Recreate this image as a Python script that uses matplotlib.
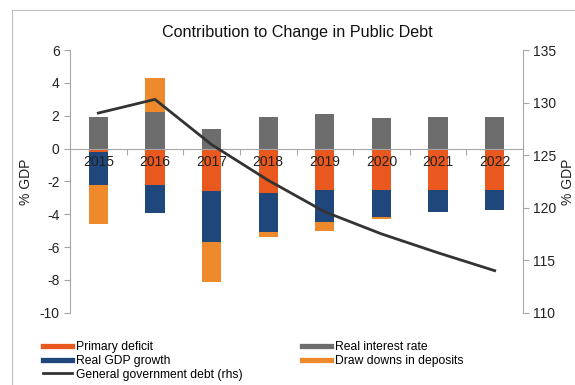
import matplotlib
matplotlib.use("Agg")
import matplotlib.pyplot as plt
import numpy as np
from matplotlib.lines import Line2D

plt.rcParams['font.family'] = ['Liberation Sans', 'DejaVu Sans']

years = ["2015", "2016", "2017", "2018", "2019", "2020", "2021", "2022"]
primary_deficit = [-0.2, -2.2, -2.6, -2.7, -2.5, -2.5, -2.5, -2.5]
real_gdp_growth = [-2.0, -1.75, -3.1, -2.4, -2.0, -1.7, -1.35, -1.25]
real_interest_rate = [1.9, 2.2, 1.2, 1.9, 2.1, 1.85, 1.9, 1.9]
draw_downs = [-2.4, 2.1, -2.4, -0.3, -0.5, -0.08, 0.0, 0.0]
gov_debt = [129.0, 130.3, 126.0, 122.6, 119.6, 117.5, 115.7, 114.0]

c_primary = "#E8581F"
c_gdp = "#1F477B"
c_int = "#6D6D6D"
c_draw = "#EF8A2C"
c_line = "#333333"
c_axis = "#A6A6A6"

fig = plt.figure(figsize=(5.75, 3.85), dpi=100)
ax = fig.add_axes([70/575, 1-312.7/385, (523-70)/575, (312.7-50)/385])

x = np.arange(len(years))
w = 0.34
pos = np.zeros(len(years))
neg = np.zeros(len(years))
series = [(primary_deficit, c_primary, "Primary deficit"),
          (real_gdp_growth, c_gdp, "Real GDP growth"),
          (real_interest_rate, c_int, "Real interest rate"),
          (draw_downs, c_draw, "Draw downs in deposits")]
for vals, col, lab in series:
    v = np.array(vals)
    bottom = np.where(v >= 0, pos, neg)
    ax.bar(x, v, w, bottom=bottom, color=col, zorder=2)
    pos = pos + np.where(v >= 0, v, 0)
    neg = neg + np.where(v < 0, v, 0)

ax.set_axisbelow(False)
ax.set_xlim(-0.5, len(years) - 0.5)
ax.set_ylim(-10, 6)
ax.set_yticks(np.arange(-10, 7, 2))
ax.set_yticklabels([str(t) for t in range(-10, 7, 2)])

for s in ['top', 'right']:
    ax.spines[s].set_visible(False)
ax.spines['left'].set_color(c_axis)
ax.spines['bottom'].set_position(('data', 0))
ax.spines['bottom'].set_color(c_axis)
ax.spines['bottom'].set_zorder(3)
ax.set_xticks(np.arange(0.5, len(years) - 0.5, 1))
ax.set_xticklabels([])
ax.set_xticks(x, minor=True)
ax.set_xticklabels(years, minor=True)
ax.tick_params(axis='x', which='major', direction='out', length=4, color=c_axis)
ax.tick_params(axis='x', which='minor', length=0, pad=5, labelsize=10, labelcolor='#222222')
ax.tick_params(axis='y', direction='out', length=4, color=c_axis, labelsize=10, labelcolor='#222222')
ax.set_ylabel("% GDP", fontsize=10, color='#222222', labelpad=5)

ax2 = ax.twinx()
ax2.plot(x, gov_debt, color=c_line, lw=2, zorder=4)
ax2.set_ylim(110, 135)
ax2.set_yticks(np.arange(110, 136, 5))
for s in ['top', 'left', 'bottom']:
    ax2.spines[s].set_visible(False)
ax2.spines['right'].set_color(c_axis)
ax2.tick_params(axis='y', direction='out', length=4, color=c_axis, labelsize=10, labelcolor='#222222')
ax2.set_ylabel("% GDP", fontsize=10, color='#222222', labelpad=3)

fig.text(297/575, 1-32/385, "Contribution to Change in Public Debt", ha='center', va='center',
         fontsize=11.6, color='#111111')

# frame lines
fig.add_artist(Line2D([11.5/575, 11.5/575], [0, 1-10/385], transform=fig.transFigure, color='#BFBFBF', lw=0.8))
fig.add_artist(Line2D([11.5/575, 1], [1-10/385, 1-10/385], transform=fig.transFigure, color='#BFBFBF', lw=0.8))

handles = [Line2D([], [], color=c_primary, lw=3.8),
           Line2D([], [], color=c_gdp, lw=3.8),
           Line2D([], [], color=c_line, lw=2),
           Line2D([], [], color=c_int, lw=3.8),
           Line2D([], [], color=c_draw, lw=3.8)]
labels = ["Primary deficit", "Real GDP growth", "General government debt (rhs)",
          "Real interest rate", "Draw downs in deposits"]
fig.legend(handles, labels, loc='upper left', bbox_to_anchor=(43/575, 1-341/385), ncol=2,
           frameon=False, fontsize=8.7, handlelength=2.4, handletextpad=0.35,
           labelspacing=0.15, columnspacing=4.9, borderpad=0, borderaxespad=0)

fig.savefig("out.png", dpi=100)
